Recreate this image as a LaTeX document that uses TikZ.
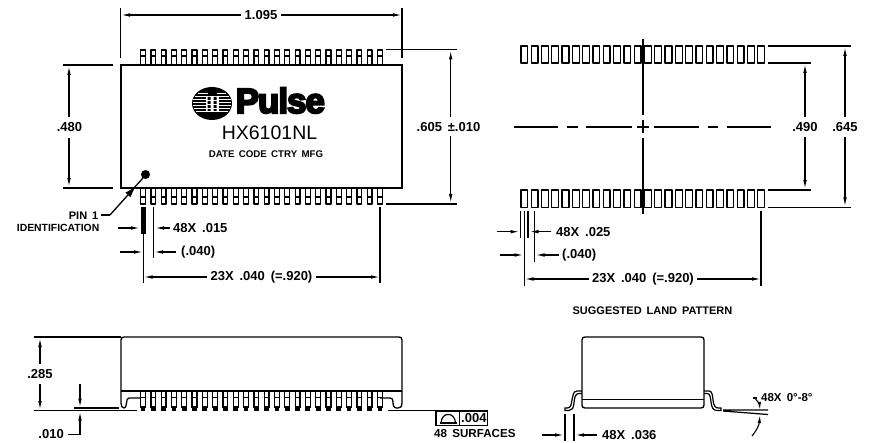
\documentclass[tikz,border=0pt]{standalone}
\usepackage{fontspec}
\setmainfont{Liberation Sans}
\usetikzlibrary{arrows.meta}
\newcommand{\gp}{\hspace{0.45em}}
\tikzset{
 x=1pt,y=-1pt,
 ln/.style={line width=1.25pt,line join=round},
 dim/.style={line width=1.2pt,-{Latex[length=9pt,width=3.6pt]}},
 lab/.style={inner sep=0pt,font=\fontsize{13}{14}\selectfont\bfseries},
 labm/.style={inner sep=0pt,font=\fontsize{11}{12}\selectfont\bfseries},
 labs/.style={inner sep=0pt,font=\fontsize{9.7}{10}\selectfont\bfseries},
}
\begin{document}
\begin{tikzpicture}
\useasboundingbox (0,0) rectangle (872,443);
% ---------- top view
\draw[line width=2.3pt,line join=miter] (121,65) rectangle (402,188);
\foreach \i in {0,...,23}{
 \pgfmathsetmacro{\c}{143+\i*10.304}
 \draw[ln] (\c-2.4,65) -- (\c-2.4,50) -- (\c+2.4,50) -- (\c+2.4,65);
 \draw[ln] (\c-2.4,56) -- (\c+2.4,56);
 \draw[ln] (\c-2.4,188) -- (\c-2.4,204) -- (\c+2.4,204) -- (\c+2.4,188);
 \draw[ln] (\c-2.4,197) -- (\c+2.4,197);
}
% 1.095
\coordinate (a1) at (120.5,8);\coordinate (a2) at (120.5,58);
\coordinate (b1) at (402,8);\coordinate (b2) at (402,58);
\draw[ln] (a1)--(a2) (b1)--(b2);
\node[lab] (t1095) at (261,15) {1.095};
\draw[dim] (t1095.west)+(-4,0) -- (121,15);
\draw[dim] (t1095.east)+(4,0) -- (402,15);
% .480
\draw[ln] (63,65)--(113,65) (63,188)--(113,188);
\node[lab] (t480) at (69.5,127) {.480};
\draw[dim] (69,117) -- (69,66);
\draw[dim] (69,138) -- (69,187);
% .605
\draw[ln] (386,49.7)--(457,49.7) (386,204)--(457,204);
\node[lab,anchor=west] (t605) at (416.5,127) {.605\gp ±.010};
\draw[dim] (450.7,117) -- (450.7,50.5);
\draw[dim] (450.7,136) -- (450.7,203);
% logo
\fill (212,103.5) ellipse (20 and 16.5);
\foreach \y/\w in {93/14,96/17,99/19,102/19,105/19,108/18,111/16}{
 \draw[white,line width=.9pt] (212-\w,\y) -- (212-4.5,\y) (212+4.5,\y)--(212+\w,\y);
}
\fill[white] (205.5,96) rectangle (218.5,112);
\fill (207.5,97) rectangle (210.5,111) (213.5,97) rectangle (216.5,111);
\foreach \y in {100,104,108}{\draw[white,line width=.6pt] (207,\y)--(217,\y);}
\node[inner sep=0pt,anchor=west] (pulse) at (235.5,100.5) {\fontsize{35}{35}\selectfont\bfseries\addfontfeature{LetterSpace=-3}\special{pdf:code 2 w 2 Tr}Pulse\special{pdf:code 0 Tr}};
\node[inner sep=0pt] (hx) at (269.5,133) {\fontsize{19.5}{20}\selectfont HX6101NL};
\node[labs] (dc) at (266,154.5) {DATE\, CODE\, CTRY\, MFG};
% pin 1
\fill (145.5,174.5) circle (4.5);
\node[labm,anchor=east] (p1) at (98.5,216) {PIN\gp 1};
\node[inner sep=0pt,font=\fontsize{10.4}{11}\selectfont\bfseries,anchor=east] (idn) at (99.5,228) {IDENTIFICATION};
\draw[ln] (101,215) -- (110,215);
\draw[line width=1.3pt,-{Latex[length=12pt,width=7pt]}] (110,215) -- (136,186);
\draw[line width=1.3pt] (134,188) -- (143,178);
% 48X .015
\fill (140.5,207) rectangle (145.7,234.5);
\draw[ln] (143.3,207)--(143.3,283);
\draw[ln] (153.5,207)--(153.5,258);
\draw[ln] (380,207)--(380,283);
\draw[dim] (118,228)--(140,228);
\draw[dim] (170,228)--(155,228);
\node[lab,anchor=west] (t015) at (173,228.5) {48X\gp .015};
\draw[dim] (120,252)--(143,252);
\draw[dim] (176,252)--(154,252);
\node[lab,anchor=west] (t040) at (181,252) {(.040)};
\node[lab] (t920) at (261.5,277) {23X\gp .040\gp (=.920)};
\draw[dim] (t920.west)+(-3,0) -- (143.5,277);
\draw[dim] (t920.east)+(3,0) -- (380,277);
% ---------- land pattern
\foreach \i in {0,...,23}{
 \pgfmathsetmacro{\c}{524.3+\i*10.3}
 \draw[ln] (\c-3.4,46) rectangle (\c+3.4,63);
 \draw[ln] (\c-3.4,190) rectangle (\c+3.4,207.5);
}
\draw[ln] (768,46)--(851,46) (768,63)--(811,63) (768,190)--(811,190) (768,207.5)--(851,207.5);
\node[lab] (t490) at (805,127) {.490};
\node[lab] (t645) at (845,127) {.645};
\draw[dim] (805,117)--(805,64);
\draw[dim] (805,137)--(805,189);
\draw[dim] (845,117)--(845,47);
\draw[dim] (845,137)--(845,206.5);
% centrelines
\draw[line width=1.2pt] (514,127)--(558,127) (567,127)--(578,127) (586,127)--(632,127) (637,127)--(649,127) (654,127)--(699,127) (708,127)--(718,127) (727,127)--(771,127);
\draw[line width=1.2pt] (643,39)--(643,115) (643,120)--(643,133) (643,138)--(643,214);
% dims
\draw[ln] (520.7,211)--(520.7,238) (528,211)--(528,238) (524.3,211)--(524.3,286) (534.3,211)--(534.3,262) (761,211)--(761,286);
\draw[dim] (497,231.7)--(519.5,231.7);
\draw[dim] (551,231.7)--(529.5,231.7);
\node[lab,anchor=west] (t025) at (556,232) {48X\gp .025};
\draw[dim] (500,255)--(523.5,255);
\draw[dim] (559,255)--(535.5,255);
\node[lab,anchor=west] (t040b) at (562,255) {(.040)};
\node[lab] (t920b) at (643,279) {23X\gp .040\gp (=.920)};
\draw[dim] (t920b.west)+(-3,0) -- (524.5,279);
\draw[dim] (t920b.east)+(3,0) -- (761,279);
\node[labm] (sug) at (652.5,310.5) {SUGGESTED\, LAND\, PATTERN};
% ---------- side view
\draw[line width=1.3pt,line join=round] (140,398)--(129,398) .. controls (127,398) and (127,400) .. (126.5,403) .. controls (126,407) and (125,408) .. (124,408) .. controls (122,408) and (121,406) .. (121,403) -- (121,340) .. controls (121,338) and (122,337) .. (124,337) -- (399,337) .. controls (401,337) and (402,338) .. (402,340) -- (402,403) .. controls (402,407) and (400,408) .. (398,408) -- (396,408) .. controls (394,408) and (393,406) .. (393,402) .. controls (393,399) and (392,398) .. (390,398) -- (380,398);
\draw[line width=1.3pt] (121,391)--(402,391);
\foreach \i in {0,...,23}{
 \pgfmathsetmacro{\c}{143+\i*10.304}
 \draw[ln] (\c-2.4,391)--(\c-2.4,408) (\c+2.4,391)--(\c+2.4,408);
 \fill (\c-2.4,405.5) rectangle (\c+2.4,411);
 \draw[ln] (\c-2.4,397.5)--(\c+2.4,397.5);
}
\draw[line width=1.3pt] (34,337)--(121,337);
\draw[line width=1.3pt] (34,410.8)--(137,410.8) (388,410.8)--(436,410.8);
\draw[ln] (74,408)--(119,408);
\node[lab] (t285) at (40,374) {.285};
\draw[dim] (40,364)--(40,338);
\draw[dim] (40,384)--(40,410);
\draw[dim] (80,384)--(80,407.5);
\draw[ln] (68,434.5)--(80,434.5);
\draw[dim] (80,434.5)--(80,411.5);
\node[lab,anchor=east] (t010) at (64,434.5) {.010};
% tolerance box
\draw[line width=1.3pt] (436,411) rectangle (487.5,425.5) (459.5,411)--(459.5,425.5);
\draw[line width=1.2pt] (440,423)--(456.5,423);
\draw[line width=1.2pt] (441,423) .. controls (441.5,411.5) and (455,411.5) .. (455.5,423);
\node[lab,anchor=west] (t004) at (461,418.5) {.004};
\node[inner sep=0pt,font=\fontsize{11.6}{12}\selectfont\bfseries,anchor=west] (t48) at (434,434) {48\gp SURFACES};
% ---------- end view
\draw[line width=1.3pt,line join=round] (582,405) -- (582,340) .. controls (582,338) and (583,337) .. (585,337) -- (701,337) .. controls (703,337) and (704,338) .. (704,340) -- (704,405) .. controls (704,407) and (703,408) .. (701,408) -- (585,408) .. controls (583,408) and (582,407) .. (582,405);
\draw[line width=1.3pt] (582,399.5)--(704,399.5);
\draw[line width=1.2pt] (582,391)--(577,391) .. controls (573,391) and (573,396) .. (572,400) .. controls (571,405) and (571,408) .. (567,408) -- (565,408) -- (565,410.5) -- (569,410.5) .. controls (572,410.5) and (573.5,408) .. (574,403) .. controls (574.5,398) and (575,393.5) .. (579,393.5) -- (582,393.5);
\draw[line width=1.2pt] (704,391)--(709,391) .. controls (712,391) and (712.5,395) .. (713,400) .. controls (713.5,405) and (715,408) .. (718,408) -- (721,408) -- (721,410.5) -- (717,410.5) .. controls (713,410.5) and (711.5,407) .. (711,402) .. controls (710.5,397) and (710,393.5) .. (707,393.5) -- (704,393.5);
\draw[ln] (565,414)--(565,441) (574,414)--(574,441);
\draw[dim] (542,435)--(564,435);
\draw[dim] (597,435)--(575,435);
\node[lab,anchor=west] (t036) at (602,435) {48X\gp .036};
\draw[ln] (723,410)--(768,410) (723,411)--(768,414.5);
\draw[ln] (753,398) -- (757,398);
\draw[line width=1.1pt,-{Latex[length=8pt,width=3.5pt]}] (755,398) .. controls (757,401) and (759.5,404) .. (760,410);
\draw[line width=1.1pt,-{Latex[length=8pt,width=3.5pt]}] (752,436) .. controls (756,431) and (759,426) .. (760,415);
\node[lab,anchor=west] (t08) at (761,398) {\fontsize{11.5}{12}\selectfont 48X\, 0°-8°};
\end{tikzpicture}
\end{document}
